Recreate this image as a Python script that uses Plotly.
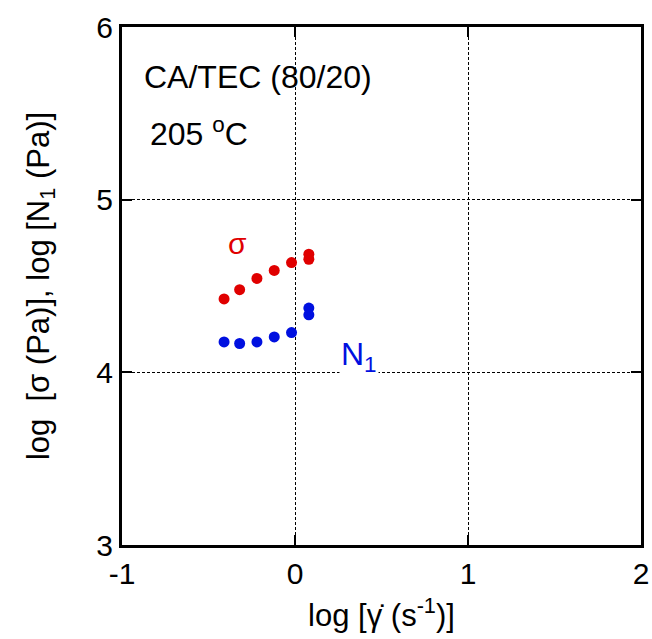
import plotly.graph_objects as go

# log shear rate (1/s) and measured log stress / log first normal stress difference (Pa)
log_rate = [-0.41, -0.32, -0.22, -0.12, -0.02, 0.08, 0.08]
log_sigma = [4.425, 4.479, 4.544, 4.590, 4.636, 4.684, 4.655]
log_n1 = [4.176, 4.167, 4.176, 4.205, 4.230, 4.372, 4.333]

x_ticks = [-1, 0, 1, 2]
y_ticks = [3, 4, 5, 6]

RED = "#e00000"
BLUE = "#0010e0"
FONT = "Liberation Sans, Arial, sans-serif"

fig = go.Figure()
fig.add_trace(go.Scatter(x=log_rate, y=log_sigma, mode="markers",
                         marker=dict(color=RED, size=11), name="sigma",
                         showlegend=False))
fig.add_trace(go.Scatter(x=log_rate, y=log_n1, mode="markers",
                         marker=dict(color=BLUE, size=11), name="N1",
                         showlegend=False))

axis_common = dict(
    showline=True, linecolor="black", linewidth=3, mirror="ticks",
    ticks="inside", ticklen=10, tickwidth=2, tickcolor="black",
    showgrid=True, gridcolor="black", gridwidth=1, griddash="3px,2px",
    zeroline=False, automargin=False,
    tickfont=dict(size=30, color="black", family=FONT),
)

fig.update_layout(
    width=652, height=639,
    margin=dict(l=122, r=11, t=27, b=94),
    plot_bgcolor="white", paper_bgcolor="white",
    font=dict(family=FONT, color="black"),
    xaxis=dict(range=[-1, 2], tickvals=x_ticks, ticktext=[str(v) for v in x_ticks],
               title=dict(text="log [γ̇ (s<sup>-1</sup>)]", font=dict(size=31), standoff=16),
               **axis_common),
    yaxis=dict(range=[3, 6], tickvals=y_ticks, ticktext=[str(v) for v in y_ticks],
               title=dict(text="log  [σ (Pa)], log [N<sub>1</sub> (Pa)]", font=dict(size=31),
                          standoff=38),
               **axis_common),
    annotations=[
        dict(x=142, y=77, text="CA/TEC (80/20)",
             showarrow=False, xanchor="left", yanchor="middle", font=dict(size=32)),
        dict(x=148, y=132, text="205 <sup>o</sup>C",
             showarrow=False, xanchor="left", yanchor="middle", font=dict(size=32)),
        dict(x=237, y=243, text="σ", showarrow=False,
             font=dict(size=30, color=RED)),
        dict(x=359, y=356, text="N<sub>1</sub>", showarrow=False, bgcolor="white",
             font=dict(size=32, color=BLUE)),
    ],
)

# annotation anchors above are given in page pixels; map them onto the data axes
x0, x1 = 122, 641
y0, y1 = 27, 545
for ann in fig.layout.annotations:
    px, py = ann.x, ann.y
    ann.xref = "x"
    ann.yref = "y"
    ann.x = -1 + (px - x0) / (x1 - x0) * 3
    ann.y = 6 - (py - y0) / (y1 - y0) * 3

fig.write_html("out.html")
